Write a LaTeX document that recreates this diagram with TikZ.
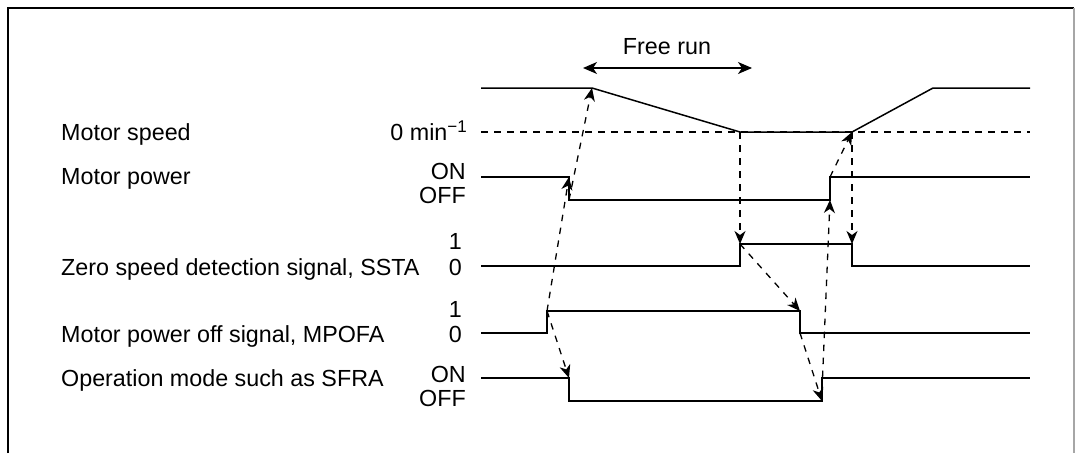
\documentclass[tikz,border=0pt]{standalone}
\usepackage{fontspec}
\setmainfont{Liberation Sans}
\usetikzlibrary{arrows.meta}
\begin{document}
\begin{tikzpicture}[x=1pt,y=-1pt,
  sig/.style={line width=1.5pt},
  dsh/.style={line width=1.3pt, dash pattern=on 6.5pt off 6.5pt},
  darr/.style={dsh, -{Stealth[length=13pt,width=11pt,inset=4pt]}},
  txt/.style={inner sep=0pt, font=\fontsize{23.3}{28}\selectfont},
  lbl/.style={txt, anchor=base west},
  lvl/.style={txt, anchor=base east},
]
\useasboundingbox (0,0) rectangle (1075,453);
% frame
\draw[line width=2.5pt] (8,453) -- (8,8) -- (1074,8);
\draw[line width=2pt, black!35] (1074,8) -- (1074,453);

% labels
\node[txt, anchor=base] (fr) at (667,54) {Free run};
\coordinate (frL) at (583,68);
\coordinate (frR) at (752,68);
\draw[line width=1.3pt, {Stealth[length=14pt,width=12pt,inset=4pt]}-{Stealth[length=14pt,width=12pt,inset=4pt]}] (frL) -- (frR);

\node[lbl] (ms) at (61,140) {Motor speed};
\node[lvl] (zm) at (467,140) {0 min{\fontsize{17}{20}\selectfont\raisebox{0.45em}{\textminus1}}};
\node[lbl] (mp) at (61,184) {Motor power};
\node[lvl] (mpon) at (466,179) {ON};
\node[lvl] (mpoff) at (466,203) {OFF};
\node[lbl] (ss) at (61,275) {Zero speed detection signal, SSTA};
\node[lvl] (ss1) at (462,249) {1};
\node[lvl] (ss0) at (462,275) {0};
\node[lbl] (mo) at (61,342) {Motor power off signal, MPOFA};
\node[lvl] (mo1) at (462,317) {1};
\node[lvl] (mo0) at (462,342) {0};
\node[lbl] (op) at (61,386) {Operation mode such as SFRA};
\node[lvl] (opon) at (466,382) {ON};
\node[lvl] (opoff) at (466,406) {OFF};

% key points
\coordinate (apex) at (592,88);
\coordinate (zs) at (740,132);
\coordinate (ze) at (852,132);
\coordinate (mpF) at (569,177);
\coordinate (mpFb) at (569,200);
\coordinate (mpR) at (830,200);
\coordinate (mpRt) at (830,177);
\coordinate (ssR) at (740,244);
\coordinate (ssF) at (852,244);
\coordinate (moR) at (547,311);
\coordinate (moF) at (800,311);
\coordinate (moFb) at (800,333);
\coordinate (opF) at (569,378);
\coordinate (opR) at (822,401);
\coordinate (opRs) at (822,390);

% zero speed dashed reference
\draw[dsh] (481,132) -- (1030,132);

% signals
\draw[sig] (481,88) -- (apex) -- (zs) -- (ze) -- (933,88) -- (1030,88);
\draw[sig] (481,177) -- (mpF) -- (mpFb) -- (mpR) -- (mpRt) -- (1030,177);
\draw[sig] (481,266) -- (740,266) -- (ssR) -- (ssF) -- (852,266) -- (1030,266);
\draw[sig] (481,333) -- (547,333) -- (moR) -- (moF) -- (moFb) -- (1030,333);
\draw[sig] (481,378) -- (opF) -- (569,401) -- (opR) -- (822,378) -- (1030,378);

% causal arrows
\draw[darr] (moR) -- (mpF);
\draw[darr] (mpFb) -- (apex);
\draw[darr] (moR) -- (opF);
\draw[darr] (zs) -- (ssR);
\draw[darr] (ssR) -- (moF);
\draw[darr] (moFb) -- (opR);
\draw[darr] (opRs) -- (mpR);
\draw[darr] (mpRt) -- (ze);
\draw[darr] (ze) -- (ssF);
\end{tikzpicture}
\end{document}
